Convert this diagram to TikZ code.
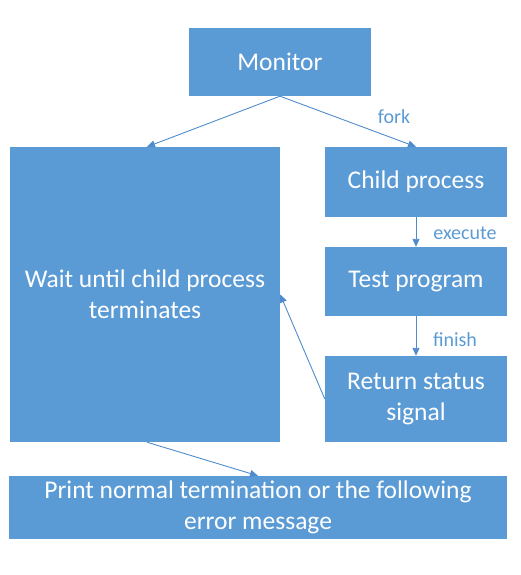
\documentclass[tikz,border=0pt]{standalone}
\usepackage{fontspec}
\setmainfont{Carlito}
\usetikzlibrary{arrows.meta,positioning}
\definecolor{boxblue}{RGB}{91,155,213}
\definecolor{lineblue}{RGB}{80,140,205}
\tikzset{
  procbox/.style={
    rectangle, fill=boxblue, text=white, inner sep=2pt,
    align=center, font=\fontsize{25.5}{31}\selectfont
  },
  arrow/.style={-{Triangle[length=8pt,width=7pt]}, line width=0.9pt, lineblue},
  edgelabel/.style={font=\fontsize{20}{24}\selectfont, text=boxblue},
}
\begin{document}
\begin{tikzpicture}[x=1pt, y=-1pt]
  \useasboundingbox (0,0) rectangle (520,575);

  %% Boxes
  \node[procbox, minimum width=182pt, minimum height=68pt] (monitor) at (280,62) {Monitor};
  \node[procbox, minimum width=270pt, minimum height=295pt] (wait) at (145,294.5)
    {Wait until child process\\terminates};
  \node[procbox, minimum width=182pt, minimum height=70pt] (child) at (416,182) {Child process};
  \node[procbox, minimum width=182pt, minimum height=69pt] (test) at (416,281.5) {Test program};
  \node[procbox, minimum width=182pt, minimum height=86pt] (ret) at (416,399)
    {Return status\\signal};
  \node[procbox, minimum width=498pt, minimum height=63pt] (print) at (258,507.5)
    {Print normal termination or the following\\error message};

  %% Arrows
  \draw[arrow] (monitor.south) -- (wait.north west -| 147,0);
  \draw[arrow] (monitor.south) -- (child.north);
  \draw[arrow] (child) -- (test);
  \draw[arrow] (test) -- (ret);
  \draw[arrow] (ret.west) -- (wait.east);
  \draw[arrow] (wait.south west -| 147,0) -- (print.north west -| 258,0);

  %% Labels
  \node[edgelabel] (forklbl) at (394,117) {fork};
  \node[edgelabel] (execlbl) at (465,233) {execute};
  \node[edgelabel] (finlbl) at (455,340) {finish};
\end{tikzpicture}
\end{document}
